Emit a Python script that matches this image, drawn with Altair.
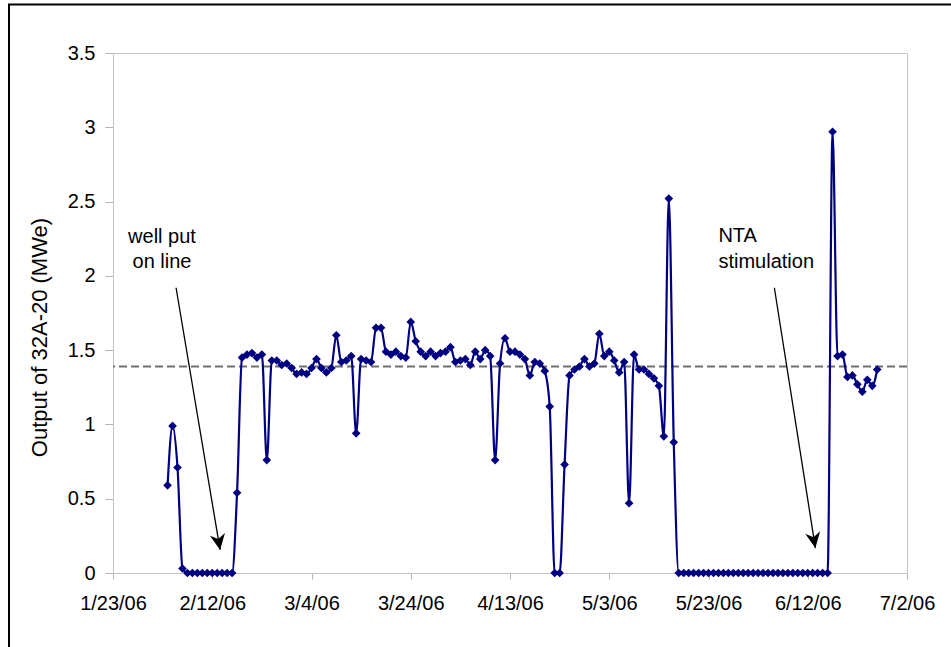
import altair as alt
import pandas as pd

# Daily output of well 32A-20, one reading per day starting 2006-02-03
first_day = "2006-02-03"
output_mwe = [
    0.59, 0.99, 0.71, 0.03,
    0.0, 0.0, 0.0, 0.0, 0.0, 0.0, 0.0, 0.0, 0.0, 0.0,
    0.54, 1.45, 1.47, 1.48, 1.45, 1.47, 0.76, 1.43, 1.43, 1.40,
    1.41, 1.38, 1.34, 1.35, 1.34, 1.38, 1.44, 1.38, 1.35, 1.38,
    1.60, 1.42, 1.43, 1.46, 0.94, 1.44, 1.43, 1.42, 1.65, 1.65,
    1.49, 1.47, 1.49, 1.46, 1.45, 1.69, 1.56, 1.49, 1.46, 1.49,
    1.46, 1.48, 1.49, 1.52, 1.42, 1.43, 1.44, 1.40, 1.49, 1.44,
    1.50, 1.46, 0.76, 1.41, 1.58, 1.49, 1.49, 1.47, 1.44, 1.33,
    1.42, 1.41, 1.36, 1.12, 0.0, 0.0, 0.73, 1.33, 1.37, 1.39,
    1.44, 1.39, 1.41, 1.61, 1.46, 1.49, 1.43, 1.35, 1.42, 0.47,
    1.47, 1.37, 1.37, 1.34, 1.31, 1.26, 0.92, 2.52, 0.88, 0.0,
    0.0, 0.0, 0.0, 0.0, 0.0, 0.0, 0.0, 0.0, 0.0, 0.0,
    0.0, 0.0, 0.0, 0.0, 0.0, 0.0, 0.0, 0.0, 0.0, 0.0,
    0.0, 0.0, 0.0, 0.0, 0.0, 0.0, 0.0, 0.0, 0.0, 0.0,
    2.97, 1.46, 1.47, 1.32, 1.33, 1.27, 1.22, 1.30, 1.26, 1.37,
]

# Average output over the period (dashed reference line)
average_mwe = 1.39

# Annotation texts and arrows
note_lines = ["well put", "on line", "NTA", "stimulation"]
note_dates = ["2006-02-01T21:00", "2006-02-01T21:00", "2006-05-25T00:00", "2006-05-25T00:00"]
note_values = [2.22, 2.05, 2.23, 2.05]
note_align = ["center", "center", "left", "left"]

arrow_start_dates = ["2006-02-04T17:00", "2006-06-05T06:30"]
arrow_start_values = [1.92, 1.92]
arrow_end_dates = ["2006-02-13T14:00", "2006-06-13T13:00"]
arrow_end_values = [0.155, 0.168]
arrow_angles = [350.4, 350.0]

x_ticks = ["2006-01-23", "2006-02-12", "2006-03-04", "2006-03-24", "2006-04-13",
           "2006-05-03", "2006-05-23", "2006-06-12", "2006-07-02"]
y_ticks = [0, 0.5, 1, 1.5, 2, 2.5, 3, 3.5]

FONT = "Liberation Sans"
NAVY = "#000080"

series = pd.DataFrame({
    "date": pd.date_range(first_day, periods=len(output_mwe), freq="D").strftime("%Y-%m-%dT%H:%M:%S"),
    "mwe": output_mwe,
})
notes = pd.DataFrame({"text": note_lines, "date": note_dates, "mwe": note_values, "align": note_align})
arrows = pd.DataFrame({
    "d0": arrow_start_dates, "v0": arrow_start_values,
    "d1": arrow_end_dates, "v1": arrow_end_values, "angle": arrow_angles,
})


def dt(s):
    t = pd.Timestamp(s)
    return alt.DateTime(year=t.year, month=t.month, date=t.day)


x_scale = alt.Scale(domain=[dt(x_ticks[0]), dt(x_ticks[-1])], nice=False)
y_scale = alt.Scale(domain=[0, 3.5], nice=False, zero=False)

x_enc = alt.X(
    "date:T", scale=x_scale, title=None,
    axis=alt.Axis(values=[dt(v) for v in x_ticks], format="%-m/%-d/%y",
                  labelFontSize=20, labelPadding=14, tickSize=6, labelFlush=False),
)
y_enc = alt.Y(
    "mwe:Q", scale=y_scale, title="Output of 32A-20 (MWe)",
    axis=alt.Axis(values=y_ticks, format="~g", labelFontSize=20, labelPadding=10,
                  tickSize=8, titleFontSize=22, titleFontWeight="normal", titlePadding=16,
                  titleY=284),
)

base = alt.Chart(series)

avg_line = alt.Chart(pd.DataFrame({"mwe": [average_mwe]})).mark_rule(
    color="#6e6e6e", strokeWidth=2, strokeDash=[8, 4]
).encode(y=alt.Y("mwe:Q", scale=y_scale))

line = base.mark_line(color=NAVY, strokeWidth=2.2, interpolate="monotone").encode(x=x_enc, y=y_enc)
points = base.mark_point(shape="diamond", filled=True, color=NAVY, size=75, opacity=1).encode(
    x="date:T", y="mwe:Q"
)

arrow_shaft = alt.Chart(arrows).mark_rule(color="black", strokeWidth=1.3).encode(
    x=alt.X("d0:T", scale=x_scale), x2="d1:T",
    y=alt.Y("v0:Q", scale=y_scale), y2="v1:Q",
)
arrow_head = alt.Chart(arrows).mark_point(
    shape="M0,0 L-0.48,-1 L0,-0.7 L0.48,-1 Z", filled=True, color="black", size=1000, opacity=1
).encode(
    x=alt.X("d1:T", scale=x_scale), y=alt.Y("v1:Q", scale=y_scale), angle=alt.Angle("angle:Q", scale=None)
)

note_center = alt.Chart(notes).transform_filter("datum.align == 'center'").mark_text(
    font=FONT, fontSize=20, align="center", baseline="alphabetic", color="black"
).encode(x=alt.X("date:T", scale=x_scale), y=alt.Y("mwe:Q", scale=y_scale), text="text:N")
note_left = alt.Chart(notes).transform_filter("datum.align == 'left'").mark_text(
    font=FONT, fontSize=20, align="left", baseline="alphabetic", color="black"
).encode(x=alt.X("date:T", scale=x_scale), y=alt.Y("mwe:Q", scale=y_scale), text="text:N")

# Outer frame around the figure (left and top edges)
one = pd.DataFrame({"k": [0]})
frame_left = alt.Chart(one).mark_rule(color="black", strokeWidth=2).encode(
    x=alt.value(-104), y=alt.value(-49), y2=alt.value(600)
)
frame_top = alt.Chart(one).mark_rule(color="black", strokeWidth=2).encode(
    x=alt.value(-105), x2=alt.value(845), y=alt.value(-48.5)
)

chart = alt.layer(
    avg_line, line, points, arrow_shaft, arrow_head, note_center, note_left, frame_left, frame_top
).properties(
    width=794, height=520,
    padding={"left": 113, "top": 53, "right": 44, "bottom": 74},
    autosize=alt.AutoSizeParams(type="none"),
    background="white",
).configure_view(
    stroke="#c4c4c4", strokeWidth=1
).configure_axis(
    grid=False, domainColor="#c4c4c4", tickColor="#b4b4b4", labelColor="black", titleColor="black",
    labelFont=FONT, titleFont=FONT,
)

chart.save("out.html", embed_options={"renderer": "svg", "actions": False})
